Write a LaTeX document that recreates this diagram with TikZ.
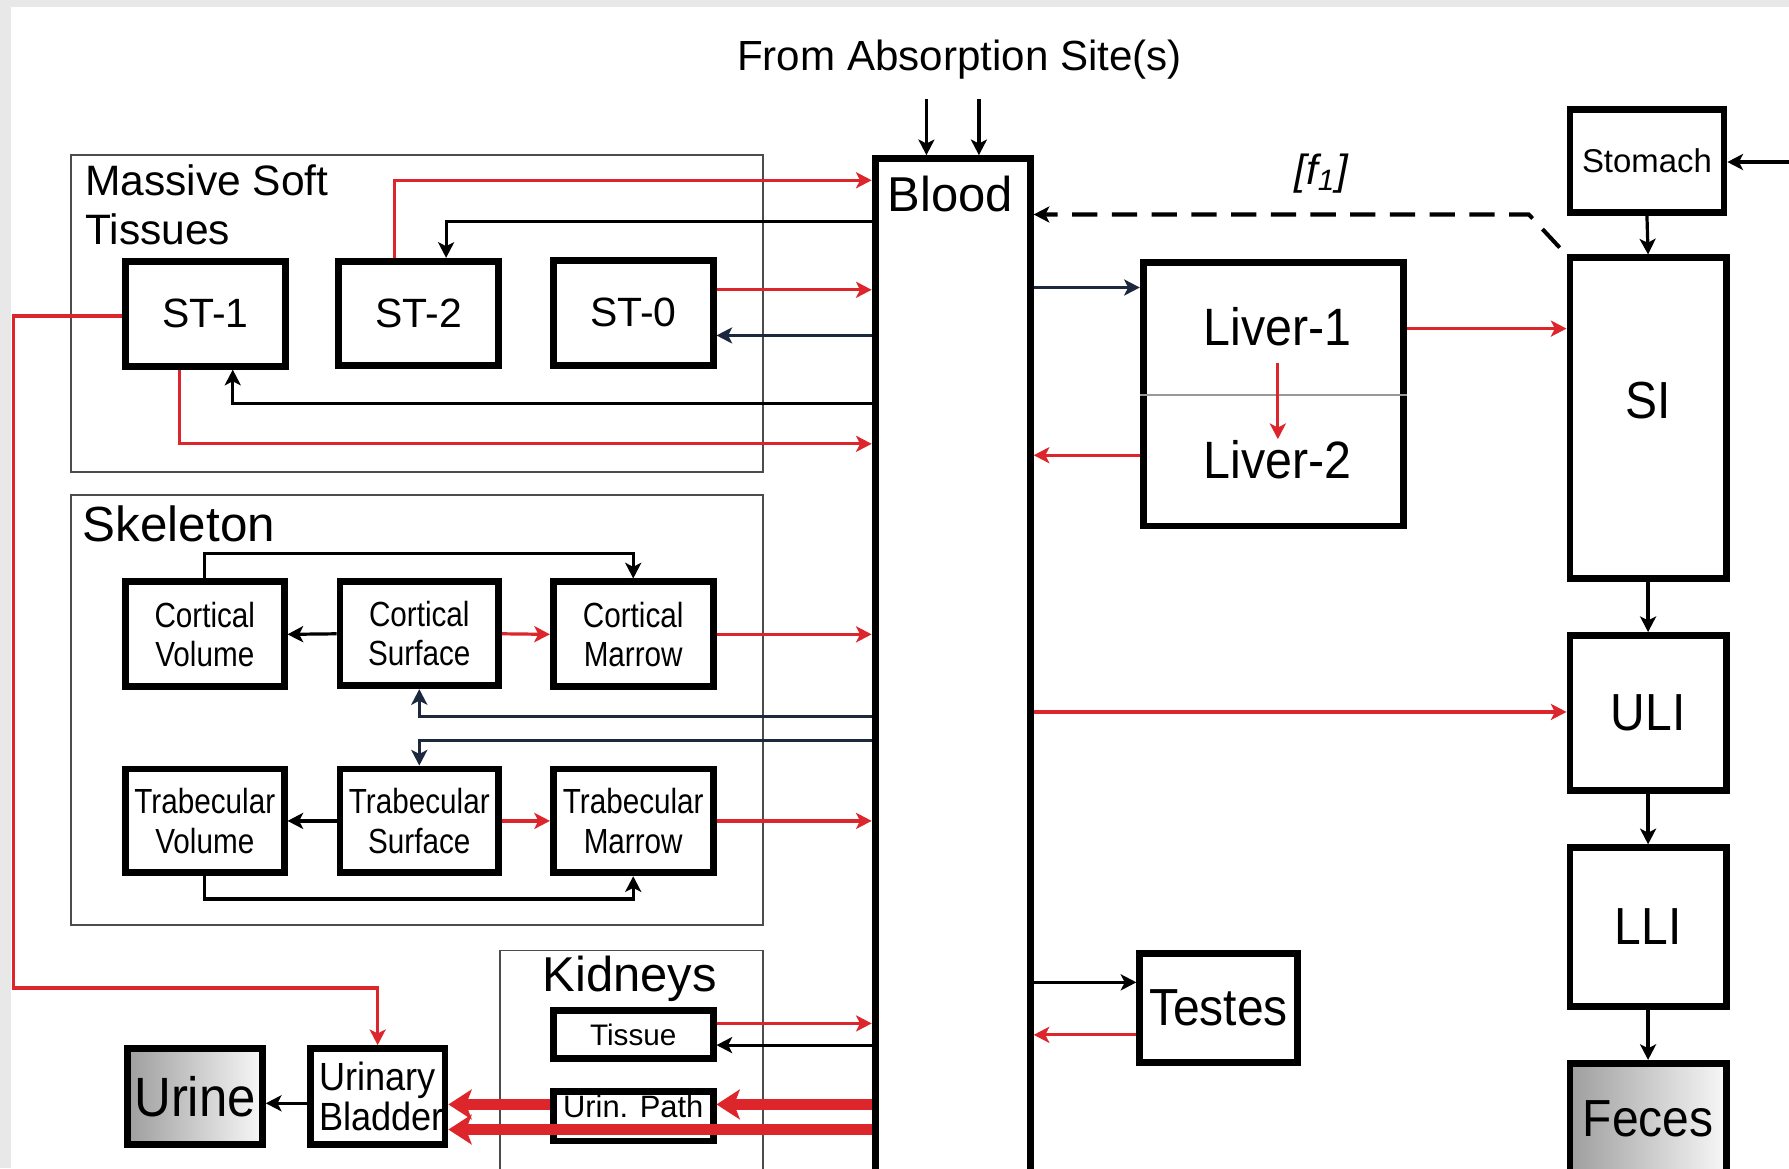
\documentclass[tikz,border=0pt]{standalone}
\usepackage{fontspec}
\setmainfont{Liberation Sans}
\newfontfamily\fK{Liberation Sans}[FakeStretch=0.85]
\newfontfamily\fN{Liberation Sans}[FakeStretch=0.92]
\usetikzlibrary{arrows.meta,fit}
\definecolor{rd}{RGB}{220,38,44}
\definecolor{nv}{RGB}{28,40,62}
\definecolor{bgg}{RGB}{232,232,232}
\newcommand{\fsz}[2]{\fontsize{#1}{#2}\selectfont}
\begin{document}
\begin{tikzpicture}[x=0.01cm,y=-0.01cm,
  bx/.style={draw=black, line width=1.7pt, fill=white, inner sep=0pt},
  grp/.style={draw=black!70, line width=0.45pt, inner sep=0pt},
  ar/.style={line width=0.8pt, -{Stealth[length=3.9pt,width=4pt,inset=1pt]}},
  blk/.style={ar, draw=black},
  rda/.style={ar, draw=rd},
  nva/.style={ar, draw=nv},
  fat/.style={draw=rd, line width=2.6pt, -{Stealth[length=5.8pt,width=7.4pt,inset=1.4pt]}},
  txt/.style={inner sep=0pt, align=center},
  shd/.style={left color=black!38, right color=black!3},
]
\fill[bgg] (0,0) rectangle (1568,1024);
\fill[white] (10,6) rectangle (1568,1024);
\useasboundingbox (0,0) rectangle (1568,1024);
\clip (0,0) rectangle (1568,1024);

% group boxes
\node[grp, fit={(62,136) (669,414)}] (mst) {};
\node[grp, fit={(62,434) (669,811)}] (skel) {};
\node[grp, fit={(438,833) (669,1060)}] (kid) {};
\node[txt, anchor=north west, align=left, font=\fsz{10.6}{12}] (msttl) at (74,144) {Massive Soft\\Tissues};
\node[txt, anchor=base west, font=\fsz{12.3}{13}] (skeltl) at (72,475) {Skeleton};
\node[txt, anchor=base, font=\fsz{12.2}{13}] (kidtl) at (552,869) {Kidneys};

% title
\node[txt, anchor=base, font=\fsz{10.5}{12}] (abs) at (841,62) {From Absorption Site(s)};

% blood
\node[bx, fit={(767,139) (903,1060)}] (blood) {};
\node[txt, anchor=base, font=\fsz{12.2}{13}] (bloodt) at (833,185) {Blood};

% soft tissues
\node[bx, fit={(110,229) (250,321)}] (st1) {};
\node[bx, fit={(297,229) (437,320)}] (st2) {};
\node[bx, fit={(485,228) (625,320)}] (st0) {};
\node[txt, font=\fsz{10.2}{11}] (st1t) at (st1) {ST-1};
\node[txt, font=\fsz{10.2}{11}] (st2t) at (st2) {ST-2};
\node[txt, font=\fsz{10.2}{11}] (st0t) at (st0) {ST-0};

% skeleton
\node[bx, fit={(110,510) (249,602)}] (cv) {};
\node[bx, fit={(298,510) (437,601)}] (cs) {};
\node[bx, fit={(485,510) (625,602)}] (cm) {};
\node[bx, fit={(110,674) (249,765)}] (tv) {};
\node[bx, fit={(298,674) (437,765)}] (ts) {};
\node[bx, fit={(485,674) (625,765)}] (tm) {};
\node[txt, font=\fK\fsz{8.7}{9.8}] (cvt) at (cv) {Cortical\\Volume};
\node[txt, font=\fK\fsz{8.7}{9.8}] (cst) at (cs) {Cortical\\Surface};
\node[txt, font=\fK\fsz{8.7}{9.8}] (cmt) at (cm) {Cortical\\Marrow};
\node[txt, font=\fK\fsz{8.7}{9.8}] (tvt) at (tv) {Trabecular\\Volume};
\node[txt, font=\fK\fsz{8.7}{9.8}] (tst) at (ts) {Trabecular\\Surface};
\node[txt, font=\fK\fsz{8.7}{9.8}] (tmt) at (tm) {Trabecular\\Marrow};

% kidneys, bladder, urine
\node[bx, fit={(485,886) (625,928)}] (tis) {};
\node[bx, fit={(485,957) (625,1000)}] (urp) {};
\node[bx, fit={(272,919) (390,1003)}] (ub) {};
\node[bx, shd, fit={(112,919) (230,1003)}] (urine) {};
\node[txt, font=\fsz{7.4}{8}] (tist) at (tis) {Tissue};
\node[txt, font=\fsz{7.7}{8}] (urpt) at ([yshift=2.6pt]urp.center) {Urin. Path};
\node[txt, align=left, font=\fN\fsz{9.8}{10.2}] (ubt) at ([xshift=1pt]ub.center) {Urinary\\Bladder};
\node[txt, font=\fN\fsz{13.8}{14}] (urinet) at (urine) {Urine};

% liver
\node[bx, fit={(1002,230) (1230,461)}] (liver) {};
\node[txt, anchor=base, font=\fN\fsz{13.1}{14}] (l1) at (1120,303) {Liver-1};
\node[txt, anchor=base, font=\fN\fsz{13.1}{14}] (l2) at (1120,419) {Liver-2};
\draw[black!40, line width=0.6pt] (liver.west |- 0,346) -- (liver.east |- 0,346);

% GI tract
\node[bx, fit={(1376,96) (1511,186)}] (stom) {};
\node[bx, fit={(1376,226) (1513,507)}] (si) {};
\node[bx, fit={(1376,557) (1513,693)}] (uli) {};
\node[bx, fit={(1376,743) (1513,882)}] (lli) {};
\node[bx, shd, fit={(1376,932) (1513,1030)}] (feces) {};
\node[bx, fit={(999,836) (1137,931)}] (testes) {};
\node[txt, font=\fsz{8.2}{9}] (stomt) at (stom) {Stomach};
\node[txt, font=\fN\fsz{13}{14}] (sit) at ([yshift=4.5pt]si.center) {SI};
\node[txt, font=\fN\fsz{13}{14}] (ulit) at (uli) {ULI};
\node[txt, font=\fN\fsz{13}{14}] (llit) at (lli) {LLI};
\node[txt, font=\fN\fsz{13}{14}] (fecest) at (feces) {Feces};
\node[txt, font=\fN\fsz{13}{14}] (testest) at (testes) {Testes};

\node[txt, font=\itshape\fsz{10.5}{12}] (f1) at (1158,152) {[f\textsubscript{1}]};

% absorption arrows
\coordinate (ab1) at (812,87);
\coordinate (ab2) at (858,87);
\draw[blk] (ab1) -- (ab1 |- blood.north);
\draw[blk] (ab2) -- (ab2 |- blood.north);

% soft tissue connectors
\draw[rda] (346,0 |- st2.north) |- (blood.west |- 0,158);
\draw[blk] (blood.west |- 0,194) -| (391,0 |- st2.north);
\draw[rda] (st0.east |- 0,254) -- (blood.west |- 0,254);
\draw[nva] (blood.west |- 0,294) -- (st0.east |- 0,294);
\draw[blk] (blood.west |- 0,354) -| (204,0 |- st1.south);
\draw[rda] (157,0 |- st1.south) |- (blood.west |- 0,389);
\draw[rda] (st1.west |- 0,277) -| (12,866) -| (ub.north);

% skeleton connectors
\draw[blk] (cv.north) -- (cv.north |- 0,485) -| (cm.north);
\draw[blk] (cs.west) -- (cv.east);
\draw[rda] (cs.east) -- (cm.west);
\draw[rda] (cm.east) -- (blood.west |- cm.east);
\draw[nva] (blood.west |- 0,628) -| (cs.south);
\draw[nva] (blood.west |- 0,649) -| (ts.north);
\draw[blk] (ts.west) -- (tv.east);
\draw[rda] (ts.east) -- (tm.west);
\draw[rda] (tm.east) -- (blood.west |- tm.east);
\draw[blk] (tv.south) -- (tv.south |- 0,788) -| (tm.south);

% kidney connectors
\draw[rda] (tis.east |- 0,897) -- (blood.west |- 0,897);
\draw[blk] (blood.west |- 0,916) -- (tis.east |- 0,916);
\draw[fat] (blood.west |- 0,968) -- (urp.east |- 0,968);
\draw[fat] (urp.west |- 0,968) -- (ub.east |- 0,968);
\draw[fat] (blood.west |- 0,990) -- (ub.east |- 0,990);
\draw[blk] (ub.west |- 0,967) -- (urine.east |- 0,967);

% liver connectors
\draw[nva] (blood.east |- 0,252) -- (liver.west |- 0,252);
\draw[rda] (liver.west |- 0,399) -- (blood.east |- 0,399);
\draw[rda] (liver.east |- 0,288) -- (si.west |- 0,288);
\draw[rda] ([yshift=-4pt]l1.south) -- (l2.north);

% f1 return
\draw[black, line width=1pt, dash pattern=on 6.3pt off 3.6pt,
      -{Stealth[length=3.9pt,width=4pt,inset=1pt]}]
      ([shift={(-6,-6)}]si.north west) -- (1340,188) -- (blood.east |- 0,188);

% GI connectors
\coordinate (stin) at (1575,142);
\draw[blk] (stin) -- (stom.east |- stin);
\draw[blk] (stom.south) -- (si.north);
\draw[blk] (si.south) -- (uli.north);
\draw[blk] (uli.south) -- (lli.north);
\draw[blk] (lli.south) -- (feces.north);
\draw[rda] (blood.east |- 0,624) -- (uli.west |- 0,624);

% testes
\draw[blk] (blood.east |- 0,861) -- (testes.west |- 0,861);
\draw[rda] (testes.west |- 0,907) -- (blood.east |- 0,907);
\end{tikzpicture}
\end{document}
